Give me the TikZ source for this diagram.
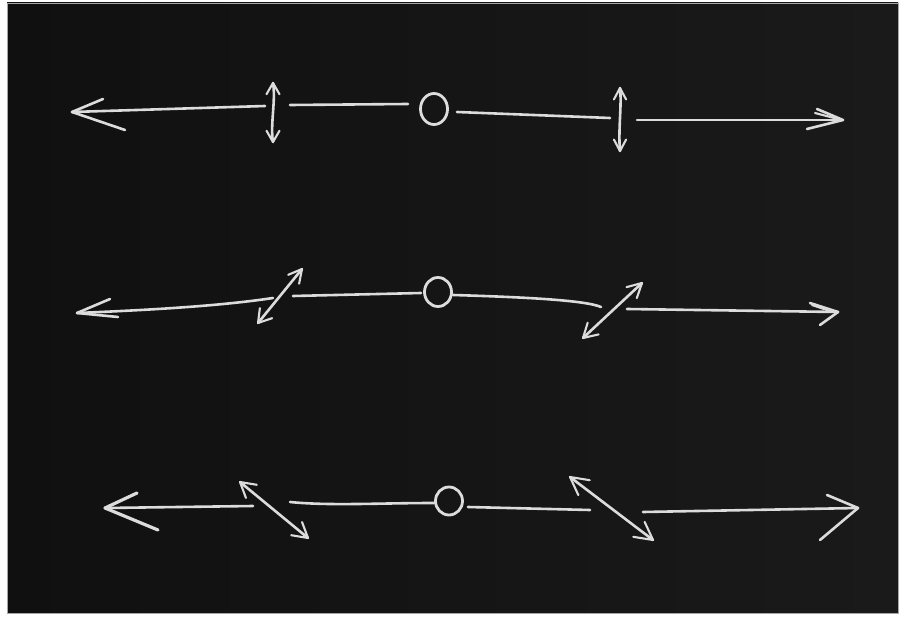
\documentclass[tikz,border=0pt]{standalone}
\usetikzlibrary{calc}
\definecolor{chalk}{HTML}{DCDCDC}
\definecolor{boardL}{HTML}{101010}
\definecolor{boardR}{HTML}{1A1A1A}
\tikzset{
  chalkline/.style={draw=chalk, line width=2.6pt, line cap=round, line join=round},
  chalkthin/.style={draw=chalk, line width=2.1pt, line cap=round, line join=round},
  chalkring/.style={draw=chalk, line width=2.8pt},
}
% symmetric barb pair at tip pointing away from "toward"
\newcommand{\chalkhead}[4]{%
  \draw[chalkthin] ($(#1)!#3!#4:(#2)$) -- (#1) -- ($(#1)!#3!-#4:(#2)$);}
\begin{document}
\begin{tikzpicture}[x=1pt,y=-1pt]
\useasboundingbox (0,0) rectangle (904,617);
\fill[white] (0,0) rectangle (904,617);
\shade[left color=boardL, right color=boardR] (7,3) rectangle (898,613);
\draw[gray!70, line width=0.8pt] (7,3) rectangle (898,613);

% ---------------- Row 1 ----------------
\coordinate (a1tip) at (72,112);
\coordinate (a1end) at (265,106);
\draw[chalkline] (a1tip) -- (a1end);
\draw[chalkline] (103,99) -- (a1tip) -- (125,130);
\coordinate (v1t) at (273,83);
\coordinate (v1b) at (273,142);
\draw[chalkline] (v1t) .. controls (276,100) and (270,125) .. (v1b);
\chalkhead{v1t}{v1b}{13pt}{30}
\chalkhead{v1b}{v1t}{13pt}{30}
\coordinate (m1a) at (290,105);
\coordinate (m1b) at (408,104);
\draw[chalkline] (m1a) -- (m1b);
\coordinate (c1) at (434,109);
\draw[chalkring] (c1) ellipse [x radius=13.5, y radius=15.5];
\coordinate (r1a) at (457,112);
\coordinate (r1b) at (610,118);
\draw[chalkline] (r1a) -- (r1b);
\coordinate (v2t) at (620,88);
\coordinate (v2b) at (620,151);
\draw[chalkline] (v2t) .. controls (622,105) and (618,130) .. (v2b);
\chalkhead{v2t}{v2b}{13pt}{28}
\chalkhead{v2b}{v2t}{13pt}{28}
\coordinate (r1c) at (637,120);
\coordinate (r1tip) at (843,120);
\draw[chalkline] (r1c) -- (r1tip);
\draw[chalkline] (817,109) -- (r1tip) -- (807,129);
\draw[chalkthin] (815,113) -- (838,119);

% ---------------- Row 2 ----------------
\coordinate (a2tip) at (77,313);
\coordinate (a2end) at (273,298);
\draw[chalkline] (a2tip) .. controls (150,310) and (220,306) .. (a2end);
\draw[chalkline] (110,299) -- (a2tip) -- (118,317);
\coordinate (d1b) at (258,323);
\coordinate (d1t) at (302,269);
\draw[chalkline] (d1b) -- (d1t);
\chalkhead{d1t}{d1b}{15pt}{28}
\chalkhead{d1b}{d1t}{15pt}{32}
\coordinate (m2a) at (293,296);
\coordinate (m2b) at (421,293);
\draw[chalkline] (m2a) -- (m2b);
\coordinate (c2) at (438,292);
\draw[chalkring] (c2) ellipse [x radius=13.5, y radius=14.5];
\coordinate (r2a) at (453,295);
\coordinate (r2b) at (601,307);
\draw[chalkline] (r2a) .. controls (520,297) and (585,300) .. (r2b);
\coordinate (d2b) at (583,338);
\coordinate (d2t) at (642,283);
\draw[chalkline] (d2b) -- (d2t);
\chalkhead{d2t}{d2b}{16pt}{28}
\chalkhead{d2b}{d2t}{16pt}{30}
\coordinate (r2c) at (627,309);
\coordinate (r2tip) at (838,312);
\draw[chalkline] (r2c) -- (r2tip);
\draw[chalkline] (810,303) -- (r2tip) -- (820,325);
\draw[chalkthin] (812,305) -- (830,311);

% ---------------- Row 3 ----------------
\coordinate (a3tip) at (105,508);
\coordinate (a3end) at (253,506);
\draw[chalkline] (a3tip) -- (a3end);
\draw[chalkline, line width=3.2pt] (137,493) -- (a3tip) -- (158,530);
\coordinate (d3t) at (240,482);
\coordinate (d3b) at (308,538);
\draw[chalkline] (d3t) -- (d3b);
\chalkhead{d3t}{d3b}{17pt}{30}
\chalkhead{d3b}{d3t}{17pt}{30}
\coordinate (m3a) at (290,502);
\coordinate (m3b) at (434,503);
\draw[chalkline] (m3a) .. controls (330,506) and (380,503) .. (m3b);
\coordinate (c3) at (449,501);
\draw[chalkring] (c3) ellipse [x radius=13.5, y radius=14];
\coordinate (r3a) at (468,507);
\coordinate (r3b) at (590,510);
\draw[chalkline] (r3a) -- (r3b);
\coordinate (d4t) at (570,477);
\coordinate (d4b) at (653,540);
\draw[chalkline] (d4t) -- (d4b);
\chalkhead{d4t}{d4b}{20pt}{28}
\chalkhead{d4b}{d4t}{20pt}{28}
\coordinate (r3c) at (643,512);
\coordinate (r3tip) at (858,508);
\draw[chalkline] (r3c) -- (r3tip);
\draw[chalkline] (827,495) -- (r3tip) -- (820,540);
\end{tikzpicture}
\end{document}
